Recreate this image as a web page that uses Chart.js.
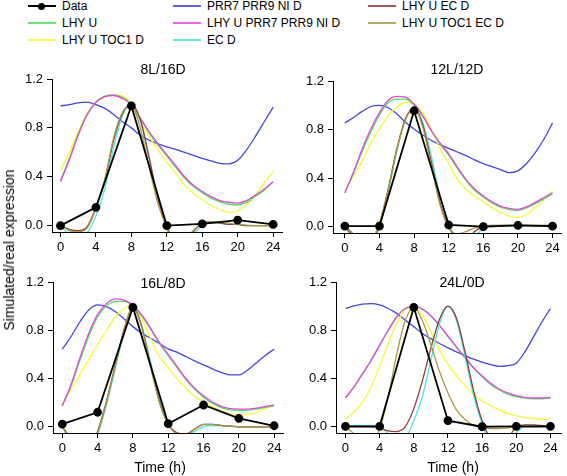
<!DOCTYPE html>
<html>
<head>
<meta charset="utf-8">
<script src="https://cdn.jsdelivr.net/npm/chart.js@4.4.1/dist/chart.umd.min.js"></script>
<style>
  body { margin: 0; background: #fff; font-family: "Liberation Sans", Arial, sans-serif; }
  #wrap { position: relative; width: 567px; height: 476px; overflow: hidden; }
  canvas { position: absolute; }
  .txt { position: absolute; color: #000; white-space: nowrap; }
  .leg { position: absolute; font-size: 12px; line-height: 12px; white-space: nowrap; }
  .leg i { position: absolute; left: 0; top: 5px; width: 28px; height: 2px; opacity: 0.85; }
  .leg b { position: absolute; left: 10px; top: 2.5px; width: 7px; height: 7px; border-radius: 50%; background: #000; }
  .leg span { position: absolute; left: 34px; top: 0; }
</style>
</head>
<body>
<div id="wrap">
  <div id="legend"></div>
  <canvas id="c8" width="290" height="200" style="left:0;top:60px"></canvas>
  <canvas id="c12" width="287" height="200" style="left:280px;top:60px"></canvas>
  <canvas id="c16" width="290" height="200" style="left:0;top:262px"></canvas>
  <canvas id="c24" width="287" height="200" style="left:280px;top:262px"></canvas>
  <div class="txt" style="left:163px;top:69px;font-size:14px;transform:translate(-50%,-50%)">8L/16D</div>
  <div class="txt" style="left:457px;top:69px;font-size:14px;transform:translate(-50%,-50%)">12L/12D</div>
  <div class="txt" style="left:163px;top:283px;font-size:14px;transform:translate(-50%,-50%)">16L/8D</div>
  <div class="txt" style="left:462px;top:282px;font-size:14px;transform:translate(-50%,-50%)">24L/0D</div>
  <div class="txt" style="left:160px;top:467px;font-size:14px;transform:translate(-50%,-50%)">Time (h)</div>
  <div class="txt" style="left:453px;top:467px;font-size:14px;transform:translate(-50%,-50%)">Time (h)</div>
  <div class="txt" style="left:9px;top:250px;font-size:14px;transform:translate(-50%,-50%) rotate(-90deg)">Simulated/real expression</div>
</div>
<script>
// Time axis
const HOURS = [0,1,2,3,4,5,6,7,8,9,10,11,12,13,14,15,16,17,18,19,20,21,22,23,24];
const SAMPLE_HOURS = [0, 4, 8, 12, 16, 20, 24];
const X_TICKS = [0, 4, 8, 12, 16, 20, 24];
const Y_TICKS = [0, 0.4, 0.8, 1.2];

// Legend order (R fills columns)
const SERIES_NAMES = ['Data', 'LHY U', 'LHY U TOC1 D', 'PRR7 PRR9 NI D', 'LHY U PRR7 PRR9 NI D', 'EC D', 'LHY U EC D', 'LHY U TOC1 EC D'];
const SERIES_COLORS = ['#000000', '#52e052', '#f7f73c', '#4646dc', '#e04ae0', '#50e4e4', '#8c3c3c', '#a89a42'];
// stacking: lower number drawn on top
const SERIES_ORDER = [0, 5, 6, 7, 4, 3, 2, 1];

// 8L/16D
const data8 = [0.0, 0.15, 0.98, 0.0, 0.015, 0.045, 0.01];
const lhyU8 = [0.37,0.55,0.75,0.91,1.01,1.06,1.07,1.05,0.99,0.88,0.76,0.66,0.57,0.48,0.39,0.32,0.27,0.225,0.195,0.175,0.17,0.19,0.24,0.29,0.36];
const lhyToc8 = [0.45,0.60,0.77,0.92,1.01,1.05,1.07,1.06,1.0,0.86,0.73,0.62,0.52,0.43,0.33,0.265,0.21,0.165,0.13,0.11,0.12,0.17,0.25,0.35,0.44];
const prr8 = [0.98,0.99,1.005,1.01,0.99,0.96,0.91,0.85,0.80,0.74,0.70,0.67,0.645,0.625,0.60,0.575,0.55,0.53,0.51,0.505,0.535,0.62,0.73,0.85,0.97];
const lhyPrr8 = [0.36,0.54,0.74,0.905,1.01,1.055,1.065,1.04,0.99,0.88,0.77,0.67,0.58,0.49,0.40,0.33,0.28,0.237,0.205,0.19,0.185,0.205,0.25,0.30,0.36];
const ec8 = [0.0,-0.07,-0.10,-0.06,0.08,0.30,0.64,0.90,0.99,0.86,0.55,0.22,-0.02,-0.2,-0.2,-0.08,0.0,0.02,0.02,0.01,0.01,0.0,0.0,0.0,0.0];
const lhyEc8 = [0.0,-0.03,-0.04,-0.01,0.15,0.37,0.70,0.92,0.99,0.87,0.56,0.22,0.0,-0.15,-0.15,-0.05,0.02,0.03,0.02,0.01,0.01,0.0,0.0,0.0,0.0];
const lhyTocEc8 = [0.01,-0.04,-0.05,-0.02,0.14,0.38,0.72,0.93,0.98,0.80,0.48,0.18,-0.02,-0.15,-0.12,-0.04,0.02,0.03,0.03,0.02,0.01,0.005,0.0,0.0,0.0];

// 12L/12D
const data12 = [0.005, 0.005, 0.955, 0.014, 0.0, 0.011, 0.005];
const lhyU12 = [0.28,0.44,0.62,0.78,0.92,1.02,1.05,1.05,1.0,0.91,0.79,0.68,0.59,0.48,0.38,0.30,0.245,0.195,0.16,0.14,0.135,0.155,0.19,0.23,0.27];
const lhyToc12 = [0.29,0.42,0.54,0.69,0.805,0.915,0.985,1.025,1.01,0.94,0.805,0.64,0.52,0.39,0.31,0.25,0.204,0.157,0.116,0.088,0.077,0.1,0.157,0.226,0.295];
const prr12 = [0.855,0.90,0.95,0.99,1.0,0.98,0.93,0.86,0.805,0.755,0.71,0.675,0.645,0.615,0.585,0.55,0.52,0.495,0.47,0.445,0.46,0.52,0.61,0.72,0.855];
const lhyPrr12 = [0.28,0.45,0.64,0.805,0.94,1.04,1.073,1.067,1.01,0.915,0.79,0.69,0.60,0.49,0.39,0.31,0.254,0.204,0.17,0.15,0.143,0.163,0.2,0.24,0.28];
const ec12 = [0.0,-0.1,-0.22,-0.18,0.0,0.28,0.62,0.88,0.98,0.86,0.58,0.25,0.03,-0.12,-0.2,-0.1,-0.01,0.0,0.005,0.005,0.005,0.005,0.005,0.005,0.005];
const lhyEc12 = [0.0,-0.08,-0.18,-0.14,0.02,0.31,0.64,0.89,0.975,0.84,0.53,0.2,0.0,-0.1,-0.12,-0.04,0.0,0.01,0.01,0.01,0.01,0.01,0.01,0.01,0.01];
const lhyTocEc12 = [0.01,-0.06,-0.15,-0.12,0.03,0.30,0.63,0.88,0.97,0.82,0.5,0.18,-0.01,-0.06,-0.04,-0.01,0.0,0.005,0.01,0.01,0.01,0.01,0.005,0.005,0.005];

// 16L/8D
const data16 = [0.022, 0.12, 0.99, 0.025, 0.18, 0.07, 0.008];
const lhyU16 = [0.17,0.34,0.55,0.75,0.91,1.0,1.04,1.04,1.0,0.92,0.81,0.69,0.59,0.49,0.39,0.31,0.245,0.195,0.158,0.14,0.135,0.137,0.147,0.16,0.175];
const lhyToc16 = [0.19,0.31,0.43,0.56,0.68,0.80,0.91,0.98,1.01,0.90,0.73,0.58,0.49,0.40,0.32,0.25,0.204,0.168,0.132,0.105,0.094,0.1,0.12,0.15,0.174];
const prr16 = [0.643,0.748,0.87,0.968,1.01,0.996,0.955,0.894,0.83,0.775,0.734,0.69,0.645,0.618,0.582,0.546,0.513,0.48,0.45,0.43,0.43,0.47,0.53,0.59,0.645];
const lhyPrr16 = [0.174,0.35,0.57,0.775,0.93,1.02,1.06,1.05,1.01,0.927,0.817,0.70,0.60,0.50,0.40,0.32,0.257,0.204,0.168,0.15,0.146,0.146,0.155,0.168,0.182];
const ec16 = [0.0,-0.14,-0.28,-0.22,-0.07,0.18,0.48,0.79,0.99,0.84,0.54,0.24,0.03,-0.06,-0.08,-0.04,0.0,0.01,0.01,0.005,0.0,0.0,0.0,0.0,0.0];
const lhyEc16 = [0.0,-0.1,-0.22,-0.18,-0.04,0.21,0.51,0.81,0.99,0.83,0.51,0.21,0.02,-0.05,-0.06,-0.02,0.02,0.02,0.01,0.005,0.0,0.0,0.0,0.0,0.0];
const lhyTocEc16 = [0.0,-0.12,-0.25,-0.2,-0.05,0.2,0.5,0.8,1.0,0.82,0.5,0.2,0.02,-0.06,-0.07,-0.02,0.02,0.02,0.01,0.005,0.0,0.0,0.0,0.0,0.0];

// 24L/0D
const data24 = [0.003, 0.003, 0.99, 0.05, 0.0, 0.003, 0.003];
const lhyU24 = [0.24,0.33,0.44,0.55,0.675,0.80,0.91,0.98,0.995,0.975,0.92,0.84,0.75,0.66,0.57,0.485,0.415,0.35,0.305,0.27,0.25,0.237,0.232,0.232,0.236];
const lhyToc24 = [0.066,0.12,0.205,0.33,0.5,0.69,0.856,0.967,0.995,0.926,0.787,0.635,0.52,0.424,0.34,0.27,0.216,0.175,0.139,0.11,0.09,0.078,0.07,0.064,0.061];
const prr24 = [0.98,1.003,1.017,1.02,1.01,0.98,0.94,0.884,0.83,0.773,0.73,0.69,0.654,0.62,0.59,0.56,0.535,0.515,0.5,0.507,0.527,0.62,0.743,0.868,0.98];
const lhyPrr24 = [0.24,0.33,0.44,0.55,0.676,0.80,0.91,0.98,0.995,0.976,0.92,0.84,0.75,0.66,0.576,0.49,0.42,0.36,0.313,0.28,0.258,0.244,0.238,0.238,0.244];
const ec24 = [0.0,0.01,0.01,0.01,0.0,-0.06,-0.15,-0.1,0.05,0.25,0.55,0.85,1.0,0.88,0.58,0.26,0.02,-0.15,-0.2,-0.15,-0.05,0.0,0.0,0.0,0.0];
const lhyEc24 = [0.0,0.0,0.0,0.0,-0.01,-0.035,-0.04,0.0,0.15,0.38,0.65,0.89,1.0,0.9,0.62,0.3,0.05,-0.1,-0.15,-0.1,0.0,0.015,0.015,0.01,0.0];
const lhyTocEc24 = [0.0,-0.06,-0.15,-0.12,-0.02,0.25,0.6,0.88,0.99,0.88,0.68,0.46,0.28,0.14,0.06,0.01,-0.01,-0.015,-0.015,-0.01,0.0,0.0,0.0,0.0,0.0];

// Legend
const LEGEND_POS = [[28, 0], [28, 17], [28, 34], [173, 0], [173, 17], [173, 34], [368, 0], [368, 17]];
let legendHTML = '';
SERIES_NAMES.forEach((name, i) => {
  const [x, y] = LEGEND_POS[i];
  legendHTML += `<div class="leg" style="left:${x}px;top:${y}px">
    <i style="background:${SERIES_COLORS[i]};${i === 0 ? 'opacity:1' : ''}"></i>
    ${i === 0 ? '<b></b>' : ''}<span>${name}</span></div>`;
});
document.getElementById('legend').innerHTML = legendHTML;

const FONT = { family: '"Liberation Sans", Arial, sans-serif', size: 13 };

function makeChart(id, box, data, curves) {
  const datasets = [{
    data: SAMPLE_HOURS.map((h, i) => ({ x: h, y: data[i] })),
    borderColor: '#000',
    backgroundColor: '#000',
    borderWidth: 1.8,
    pointRadius: 3.5,
    tension: 0,
    order: SERIES_ORDER[0]
  }];
  curves.forEach((arr, k) => {
    datasets.push({
      data: HOURS.map((h, i) => ({ x: h, y: arr[i] })),
      borderColor: SERIES_COLORS[k + 1],
      borderWidth: 1.3,
      pointRadius: 0,
      cubicInterpolationMode: 'monotone',
      order: SERIES_ORDER[k + 1]
    });
  });

  new Chart(document.getElementById(id), {
    type: 'line',
    data: { datasets: datasets },
    options: {
      responsive: false,
      animation: false,
      devicePixelRatio: 1,
      layout: { padding: { top: box.top, right: box.right, left: 0, bottom: 0 } },
      plugins: { legend: { display: false }, tooltip: { enabled: false } },
      scales: {
        x: {
          type: 'linear',
          min: box.xmin,
          max: box.xmax,
          afterBuildTicks: s => { s.ticks = X_TICKS.map(v => ({ value: v })); },
          afterFit: s => { s.height = box.xh; },
          ticks: { font: FONT, color: '#000', padding: 3, maxRotation: 0, autoSkip: false },
          grid: { drawOnChartArea: false, tickLength: 5, color: '#000' },
          border: { color: '#000', width: 1 }
        },
        y: {
          min: -0.052,
          max: 1.2,
          afterBuildTicks: s => { s.ticks = Y_TICKS.map(v => ({ value: v })); },
          afterFit: s => { s.width = box.yw; },
          ticks: { font: FONT, color: '#000', padding: 4, callback: v => v.toFixed(1) },
          grid: { drawOnChartArea: false, tickLength: 5, color: '#000' },
          border: { color: '#000', width: 1 }
        }
      }
    }
  });
}

makeChart('c8', { top: 19, right: 8, xh: 28, yw: 52, xmin: -0.96, xmax: 25.0 }, data8,
  [lhyU8, lhyToc8, prr8, lhyPrr8, ec8, lhyEc8, lhyTocEc8]);
makeChart('c12', { top: 21, right: 2, xh: 27, yw: 53, xmin: -1.37, xmax: 25.0 }, data12,
  [lhyU12, lhyToc12, prr12, lhyPrr12, ec12, lhyEc12, lhyTocEc12]);
makeChart('c16', { top: 20, right: 7, xh: 29, yw: 53, xmin: -1.05, xmax: 25.0 }, data16,
  [lhyU16, lhyToc16, prr16, lhyPrr16, ec16, lhyEc16, lhyTocEc16]);
makeChart('c24', { top: 20, right: 1, xh: 29, yw: 56, xmin: -1.11, xmax: 25.26 }, data24,
  [lhyU24, lhyToc24, prr24, lhyPrr24, ec24, lhyEc24, lhyTocEc24]);
</script>
</body>
</html>
